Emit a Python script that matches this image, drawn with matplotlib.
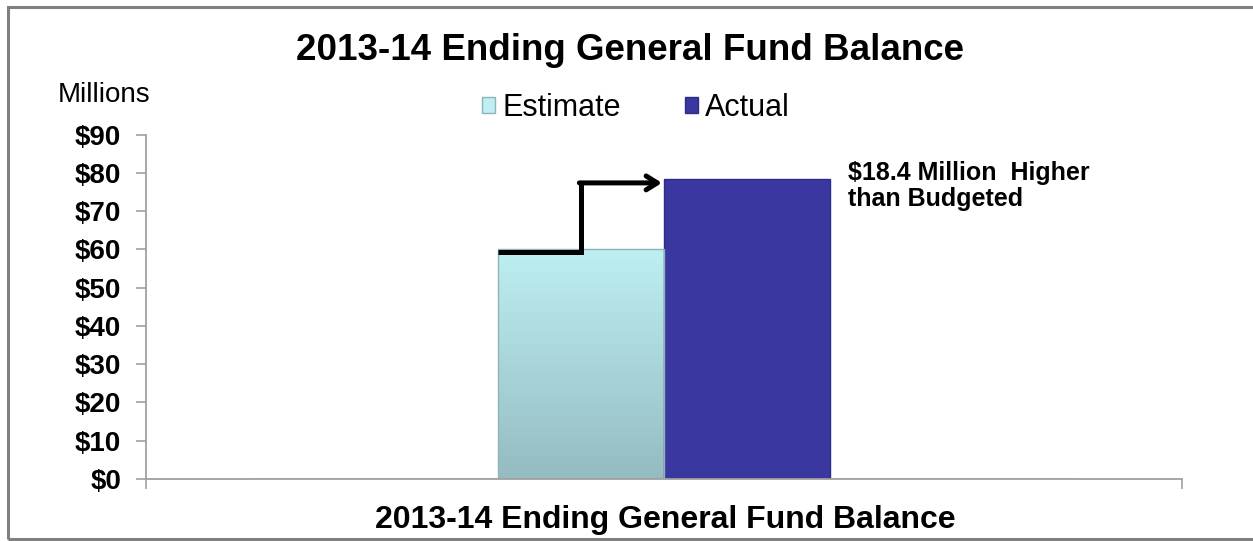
import matplotlib.pyplot as plt
import numpy as np
from matplotlib.patches import Rectangle
from matplotlib.colors import LinearSegmentedColormap

plt.rcParams['font.family'] = ['Liberation Sans', 'DejaVu Sans']

# chart data (millions of dollars)
category = "2013-14 Ending General Fund Balance"
series = ["Estimate", "Actual"]
values = [60.0, 78.4]
difference = 18.4
yticks = list(range(0, 91, 10))
ytick_labels = ["$%d" % t for t in yticks]

est_top, est_bottom = "#bdeff3", "#95bcc0"
act_color = "#3a38a0"

fig = plt.figure(figsize=(12.53, 5.41), dpi=100)
ax = fig.add_axes([146 / 1253, 1 - 479 / 541, 1036 / 1253, (479 - 134.7) / 541])

width = 0.16
xs = [-width / 2, width / 2]

# estimate bar with vertical gradient
grad = LinearSegmentedColormap.from_list("est", [est_bottom, est_top])
ax.imshow(np.linspace(0, 1, 256).reshape(-1, 1), cmap=grad, origin="lower",
          extent=[xs[0] - width / 2, xs[0] + width / 2, 0, values[0]],
          aspect="auto", zorder=2)
ax.add_patch(Rectangle((xs[0] - width / 2, 0), width, values[0], fill=False,
                       edgecolor="#8fb3b6", linewidth=1.0, zorder=3))
ax.bar(xs[1], values[1], width, color=act_color, edgecolor="#2e2c86",
       linewidth=1.0, zorder=2)

# legend proxies
ax.bar([0], [0], color=est_top, edgecolor="#8fb3b6", label=series[0])
ax.bar([0], [0], color=act_color, edgecolor="#2e2c86", label=series[1])

# step arrow from estimate to actual
x0 = xs[0] - width / 2
xm = xs[0]
x1 = xs[1] - width / 2
y_lo = values[0] - 0.6
y_hi = values[1] - 1.0
ax.plot([x0, xm, xm], [y_lo, y_lo, y_hi], color="black", lw=3.6,
        solid_capstyle="butt", solid_joinstyle="miter", zorder=4, clip_on=False)
ax.annotate("", xy=(x1 - 0.002, y_hi), xytext=(xm - 0.0017, y_hi),
            arrowprops=dict(arrowstyle="->,head_length=0.8,head_width=0.5",
                            color="black", lw=3.6, shrinkA=0, shrinkB=0),
            zorder=4)

ax.text(xs[1] + width / 2 + 0.018, values[1] + 4.6,
        "$%.1f Million  Higher\nthan Budgeted" % difference,
        fontsize=18, fontweight="bold", va="top", ha="left", linespacing=1.1)

ax.set_xlim(-0.5, 0.5)
ax.set_ylim(0, 90)
ax.set_yticks(yticks)
ax.set_yticklabels(ytick_labels, fontsize=20, fontweight="bold")
ax.set_xticks([-0.5, 0.5])
ax.set_xticklabels([])
ax.tick_params(axis="y", direction="out", length=7, width=1.2, color="#a0a0a0", pad=11)
ax.tick_params(axis="x", direction="out", length=7, width=1.2, color="#a0a0a0")
for s in ["top", "right"]:
    ax.spines[s].set_visible(False)
for s in ["left", "bottom"]:
    ax.spines[s].set_color("#a0a0a0")
    ax.spines[s].set_linewidth(1.3)

fig.text(630 / 1253, 1 - 50 / 541, category, fontsize=26.5, fontweight="bold",
         ha="center", va="center")
fig.text(665 / 1253, 1 - 520 / 541, category, fontsize=23, fontweight="bold",
         ha="center", va="center")
fig.text(104 / 1253, 1 - 95 / 541, "Millions", fontsize=20, ha="center", va="center")

ax.legend(loc="center", bbox_to_anchor=(636 / 1253, 1 - 108 / 541),
          bbox_transform=fig.transFigure, ncol=2, frameon=False, fontsize=22,
          handlelength=0.42, handleheight=0.42, handletextpad=0.25,
          columnspacing=2.1)

# outer frame, open on the right side
fig.patches.append(Rectangle((8 / 1253, 1 - 539 / 541), 1.1, (539 - 7) / 541,
                             transform=fig.transFigure, fill=False,
                             edgecolor="#808080", linewidth=2.2))

fig.savefig("out.png", dpi=100)
